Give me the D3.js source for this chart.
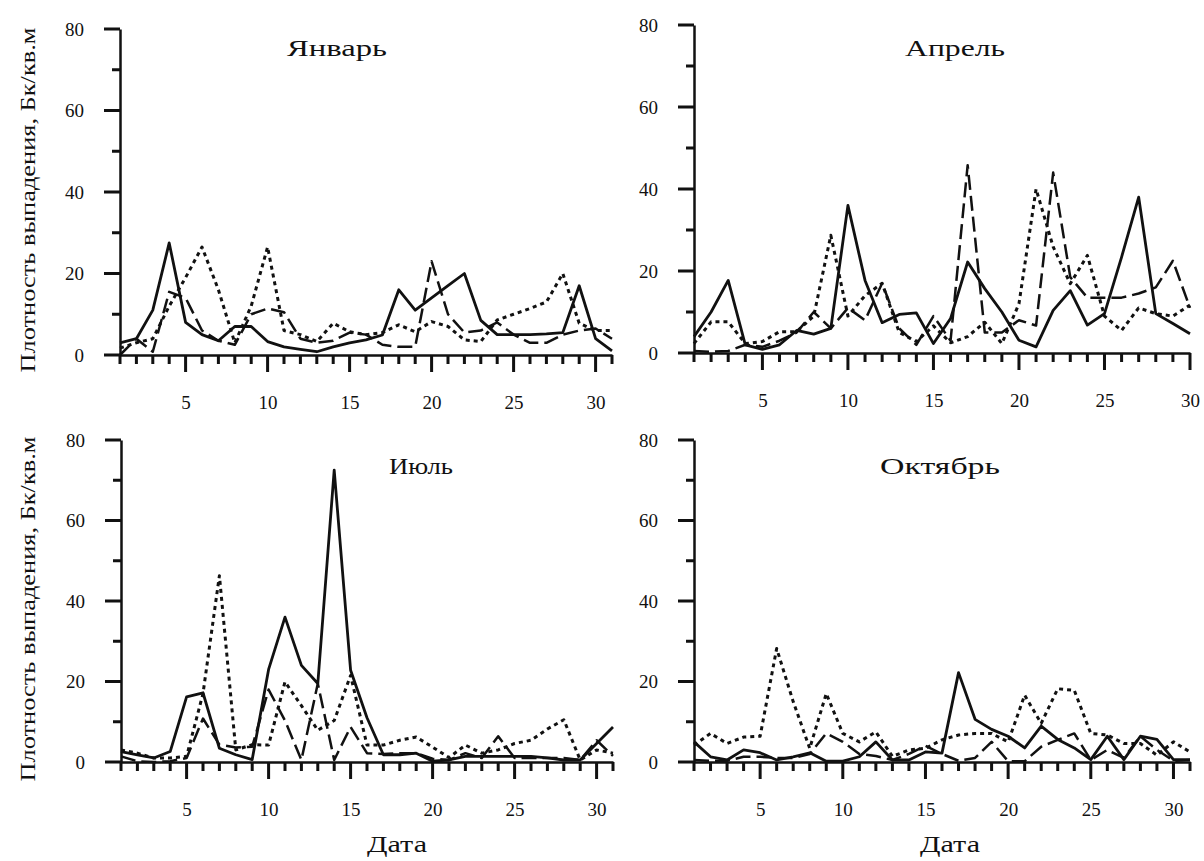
<!DOCTYPE html>
<html>
<head>
<meta charset="utf-8">
<script src="https://cdn.jsdelivr.net/npm/d3@7"></script>
<style>
body { margin: 0; background: #fff; }
svg { display: block; }
text { font-family: "Liberation Serif", "DejaVu Serif", serif; fill: #111; }
</style>
</head>
<body>
<svg id="chart"></svg>
<script>
var svgWidth = 1204;
var svgHeight = 861;

// Labels and ticks
var monthNames = ["Январь", "Апрель", "Июль", "Октябрь"];
var yTicks = [0, 20, 40, 60, 80];
var yMinorTicks = [10, 30, 50, 70];
var xTicks = [5, 10, 15, 20, 25, 30];
var yTitle = "Плотность выпадения, Бк/кв.м";
var xTitle = "Дата";
var daysInMonth = [31, 30, 31, 31];

// January: solid, long dash, short dash
var janSolid = [3, 4, 11, 27.5, 8, 5, 3.5, 7, 7, 3.3, 2, 1.4, 0.8, 2, 3, 3.7, 4.9, 16, 11, 14, 17, 20, 8.5, 5, 5, 5, 5.2, 5.5, 17, 4, 1];
var janLong = [0, 4, 0.8, 15.5, 14, 6, 3.5, 2.5, 10, 11.4, 10.5, 4, 3, 3.5, 5.5, 5, 2.5, 2, 2, 23, 10, 5.5, 6, 8, 5, 3, 3, 5, 6, 6.5, 4];
var janDot = [1.7, 3, 4, 12, 19, 26.5, 16, 3, 12, 26.5, 6, 5, 3.3, 7.8, 5.7, 5, 5.5, 7.4, 5.7, 8.2, 7, 3.7, 3.3, 8.6, 10, 11.4, 13, 20, 7.8, 6, 6];

// April
var aprSolid = [4, 10, 17.7, 2, 0.9, 2, 5.5, 4.6, 6, 36, 17.7, 7.4, 9.4, 9.8, 2.3, 8.4, 22.2, 15.7, 10, 3.1, 1.5, 10.4, 15.2, 6.8, 9.6, 23.4, 38, 9.6, 7.2, 4.7];
var aprLong = [0.5, 0.3, 0.5, 2, 1.5, 3, 5, 10, 6, 11, 8, 17, 6, 2, 9, 3, 45.8, 5, 5, 8, 6.7, 44, 18.5, 13.5, 13.5, 13.5, 14.5, 16, 22.5, 11];
var aprDot = [2.3, 7.6, 7.6, 2.3, 2.8, 5.2, 5.2, 9, 28.7, 9, 14, 17, 5, 2.8, 6.6, 2.5, 4, 7.5, 2.3, 12, 40, 25.9, 16.9, 23.8, 9, 5.5, 11, 9.6, 9, 11.7];

// July
var julSolid = [2.6, 1.8, 1, 2.6, 16.2, 17.2, 3.4, 1.8, 0.6, 23, 36, 24, 19.5, 72.5, 22.8, 11, 1.8, 1.8, 2.2, 0.2, 0.5, 1.4, 1.4, 1.4, 1.4, 1.4, 1, 0.5, 0.5, 4.6, 8.7];
var julLong = [1.4, 0.2, 0, 0.2, 1, 10.8, 4.3, 3.6, 3.8, 18, 10.3, 0.5, 19.5, 0.5, 8.7, 2.2, 2, 2.2, 2.2, 0.8, 0.5, 2.2, 1, 6.4, 1, 1, 1, 1, 0.5, 5.4, 1.5];
var julDot = [3, 2.2, 1, 1, 1.4, 17, 46.3, 3, 4.3, 4.2, 19.9, 14, 7.9, 10.3, 21.5, 4.2, 4.2, 5.4, 6.2, 3.7, 1.1, 4.2, 2.2, 3, 4.6, 5.4, 8.2, 10.5, 0.5, 3, 2.2];

// October
var octSolid = [5, 1.3, 0.5, 3, 2.3, 0.5, 1.3, 2.3, 0.2, 0.2, 1.3, 5, 0.5, 0.5, 2.5, 2.2, 22.2, 10.6, 8.1, 6.4, 3.5, 8.9, 5.6, 3.5, 0.6, 6.4, 0.6, 6.4, 5.6, 0.6, 0.6];
var octLong = [0.5, 0.3, 0.3, 1.3, 1.3, 1, 1, 2, 7.1, 5, 2, 1.5, 0.5, 2, 4, 2, 0.3, 1, 5, 0.2, 0.2, 3.8, 5.5, 7.1, 0.5, 3, 1, 6.4, 3, 0.3, 0.5];
var octDot = [4.2, 7.1, 4.6, 6.2, 6.4, 28.2, 15, 3.4, 17, 7.1, 5, 7.5, 1.4, 3, 3.4, 5.5, 6.7, 7.1, 7.1, 5, 16.6, 9.6, 18.2, 17.8, 7.1, 6.7, 4.6, 4.6, 1.7, 5, 2.5];

var seriesByMonth = [
	[janSolid, janLong, janDot],
	[aprSolid, aprLong, aprDot],
	[julSolid, julLong, julDot],
	[octSolid, octLong, octDot]
];

// Line styles: solid, long dash, short dash
var dashStyles = [null, "15,6", "4,4"];
var lineWidths = [2.8, 2.5, 3];

// Panel placement (pixels): left = day 1, right = last day, top = 80, bottom = 0
var panelLayout = [
	{left: 120, right: 612, top: 29, bottom: 355, titleX: 337, titleY: 56, yLabel: true},
	{left: 694, right: 1190, top: 25, bottom: 353, titleX: 955, titleY: 56, yLabel: false},
	{left: 121, right: 613, top: 440, bottom: 762, titleX: 421, titleY: 474, yLabel: true},
	{left: 694, right: 1190, top: 440, bottom: 762, titleX: 940, titleY: 474, yLabel: false}
];
var titleWidths = [100, 100, 64, 120];
var dateLabelX = [397, 950];

var ink = "#111";

function buildChart(){
	var theSVG = d3.select("#chart")
		.attr("width", svgWidth)
		.attr("height", svgHeight);

	for (var i = 0; i < panelLayout.length; i++) {
		drawPanel(theSVG, i);
	}
}

function drawPanel(theSVG, idx){
	var p = panelLayout[idx];
	var nDays = daysInMonth[idx];
	var days = d3.range(1, nDays + 1);

	var x = d3.scaleLinear().domain([1, nDays]).range([p.left, p.right]);
	var y = d3.scaleLinear().domain([0, 80]).range([p.bottom, p.top]);

	var g = theSVG.append("g");

	//X axis: baseline and labels from d3, ticks hidden there
	g.append("g")
		.attr("transform", "translate(0," + p.bottom + ")")
		.call(d3.axisBottom(x).tickValues(xTicks).tickSize(17).tickSizeOuter(0).tickPadding(24))
		.call(styleAxis)
		.selectAll("text")
		.attr("font-size", 19);

	//Y axis
	g.append("g")
		.attr("transform", "translate(" + p.left + ",0)")
		.call(d3.axisLeft(y).tickValues(yTicks).tickSize(16).tickSizeOuter(0).tickPadding(20))
		.call(styleAxis)
		.selectAll("text")
		.attr("font-size", 19);

	//Tick marks as one path layer, placed by the same scales
	var tickPath = "";
	days.forEach(function(d){
		var len = xTicks.indexOf(d) >= 0 ? 17 : 9;
		tickPath += "M" + x(d) + "," + p.bottom + "v" + len;
	});
	yTicks.concat(yMinorTicks).forEach(function(v){
		var len = yTicks.indexOf(v) >= 0 ? 16 : 8;
		tickPath += "M" + p.left + "," + y(v) + "h" + (-len);
	});
	g.append("path")
		.attr("d", tickPath)
		.attr("fill", "none")
		.attr("stroke", ink)
		.attr("stroke-width", 3);

	//Data lines
	var series = seriesByMonth[idx];
	for (var s = 0; s < series.length; s++) {
		var line = d3.line()
			.x(function(d, k){ return x(days[k]); })
			.y(function(d){ return y(d); });
		g.append("path")
			.datum(series[s])
			.attr("d", line)
			.attr("fill", "none")
			.attr("stroke", ink)
			.attr("stroke-width", lineWidths[s])
			.attr("stroke-linejoin", "round")
			.attr("stroke-dasharray", dashStyles[s]);
	}

	//Month title, stretched like the scanned lettering
	g.append("text")
		.attr("x", p.titleX)
		.attr("y", p.titleY)
		.attr("text-anchor", "middle")
		.attr("font-size", 23)
		.attr("textLength", titleWidths[idx])
		.attr("lengthAdjust", "spacingAndGlyphs")
		.text(monthNames[idx]);

	if (p.yLabel) {
		var cy = (p.top + p.bottom) / 2 + 8;
		g.append("text")
			.attr("transform", "translate(28," + cy + ") rotate(-90)")
			.attr("text-anchor", "middle")
			.attr("dominant-baseline", "central")
			.attr("font-size", 21)
			.attr("textLength", 345)
			.attr("lengthAdjust", "spacingAndGlyphs")
			.text(yTitle);
	}

	//Date label only under the lower panels
	if (idx >= 2) {
		g.append("text")
			.attr("x", dateLabelX[idx - 2])
			.attr("y", 852)
			.attr("text-anchor", "middle")
			.attr("font-size", 24)
			.attr("textLength", 60)
			.attr("lengthAdjust", "spacingAndGlyphs")
			.text(xTitle);
	}
}

//Axis line in the scanned black style; tick marks come from the path layer.
function styleAxis(a){
	a.select(".domain").attr("stroke", ink).attr("stroke-width", 2.5);
	a.selectAll(".tick line").attr("stroke", "none");
	a.selectAll(".tick text").attr("fill", ink).attr("font-family", "Liberation Serif");
}

buildChart();
</script>
</body>
</html>
